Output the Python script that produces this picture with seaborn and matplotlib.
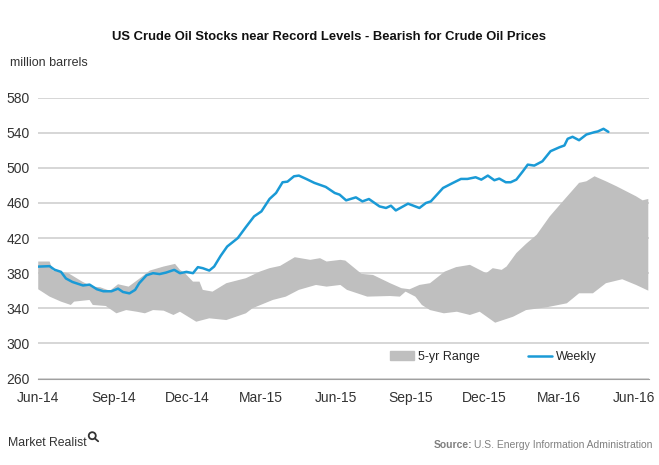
import matplotlib
matplotlib.use("Agg")
import matplotlib.pyplot as plt
import matplotlib.dates as mdates
from matplotlib.patches import Patch, Ellipse
from matplotlib.lines import Line2D
import seaborn as sns
import pandas as pd
import numpy as np

# weekly US crude oil stocks (million barrels)
weekly_dates = ["2014-06-01", "2014-06-15", "2014-06-21", "2014-06-29", "2014-07-05", "2014-07-13",
                "2014-07-26", "2014-08-03", "2014-08-12", "2014-08-20", "2014-08-30", "2014-09-07",
                "2014-09-13", "2014-09-21", "2014-09-28", "2014-10-03", "2014-10-12", "2014-10-20",
                "2014-10-28", "2014-11-05", "2014-11-15", "2014-11-22", "2014-11-30", "2014-12-08",
                "2014-12-14", "2014-12-20", "2014-12-28", "2015-01-03", "2015-01-11", "2015-01-19",
                "2015-02-01", "2015-02-11", "2015-02-21", "2015-03-02", "2015-03-12", "2015-03-20",
                "2015-03-28", "2015-04-03", "2015-04-11", "2015-04-17", "2015-04-26", "2015-05-06",
                "2015-05-20", "2015-05-31", "2015-06-06", "2015-06-14", "2015-06-26", "2015-07-04",
                "2015-07-12", "2015-07-25", "2015-08-02", "2015-08-08", "2015-08-14", "2015-08-29",
                "2015-09-12", "2015-09-20", "2015-09-26", "2015-10-11", "2015-10-23", "2015-11-02",
                "2015-11-10", "2015-11-20", "2015-11-27", "2015-12-05", "2015-12-13", "2015-12-19",
                "2015-12-27", "2016-01-02", "2016-01-09", "2016-01-17", "2016-01-23", "2016-01-31",
                "2016-02-10", "2016-02-20", "2016-03-02", "2016-03-08", "2016-03-12", "2016-03-18",
                "2016-03-26", "2016-04-04", "2016-04-14", "2016-04-18", "2016-04-25", "2016-05-01"]
weekly_vals = [387.5, 388, 384, 381.5, 374, 370,
               366, 367, 361.7, 359.4, 359.4, 362.4,
               358.6, 357, 361, 368.6, 377.7, 380,
               379, 380.7, 383.8, 380, 381.5, 380,
               386.9, 385.7, 383, 387.6, 399.8, 410.4,
               420, 432.6, 444.7, 450.4, 464.6, 471.4,
               483.6, 484.3, 490.4, 491.2, 487.4, 482.9,
               478.3, 471.4, 469.5, 463, 466.4, 461.8,
               464.5, 456.1, 454.3, 456.9, 451.5, 459.2,
               454.3, 460, 461.8, 477.1, 482.8, 487.4,
               487.4, 489.3, 486.6, 491.2, 485.9, 487.8,
               483.6, 483.6, 486.6, 496.1, 503.7, 502.6,
               507.5, 519, 523.5, 525.5, 533.1, 535.4,
               531.5, 538, 540.7, 541.5, 544.5, 541]

# 5-yr range, upper edge
upper_dates = ["2014-06-01", "2014-06-15", "2014-06-19", "2014-07-08", "2014-07-25", "2014-08-06",
               "2014-08-16", "2014-08-28", "2014-09-07", "2014-09-20", "2014-10-04", "2014-10-16",
               "2014-11-02", "2014-11-16", "2014-11-22", "2014-11-28", "2014-12-08", "2014-12-16",
               "2014-12-20", "2015-01-01", "2015-01-18", "2015-02-11", "2015-02-28", "2015-03-12",
               "2015-03-25", "2015-04-12", "2015-05-01", "2015-05-13", "2015-05-21", "2015-06-07",
               "2015-06-13", "2015-07-03", "2015-07-17", "2015-08-07", "2015-08-21", "2015-08-31",
               "2015-09-12", "2015-09-25", "2015-10-13", "2015-10-27", "2015-11-13", "2015-11-25",
               "2015-12-03", "2015-12-11", "2015-12-22", "2015-12-28", "2016-01-09", "2016-01-21",
               "2016-02-03", "2016-02-19", "2016-03-06", "2016-03-26", "2016-04-04", "2016-04-14",
               "2016-04-28", "2016-05-11", "2016-05-23", "2016-06-04", "2016-06-12", "2016-06-19"]
upper_vals = [393.3, 393.3, 383, 380, 370.4, 364.7,
              364, 360, 367.4, 364.7, 374.3, 383,
              387.6, 390.6, 383.8, 380, 370.4, 370.4,
              361, 359, 368.6, 374.3, 381.8, 385.7,
              388.3, 398.2, 395.2, 397.1, 393.3, 395.2,
              394.4, 379.2, 378, 368.6, 362.9, 361.7,
              366.6, 368.6, 381.8, 386.9, 389.5, 383.8,
              380, 385.7, 383.8, 387.6, 402.9, 413.5,
              423.8, 444.7, 461.8, 482.9, 484.7, 490.4,
              484.7, 479, 473.3, 467.6, 463, 464.6]

# 5-yr range, lower edge
lower_dates = ["2014-06-01", "2014-06-15", "2014-06-29", "2014-07-11", "2014-07-15", "2014-08-03",
               "2014-08-07", "2014-08-23", "2014-09-05", "2014-09-17", "2014-09-30", "2014-10-10",
               "2014-10-20", "2014-11-02", "2014-11-14", "2014-11-22", "2014-12-12", "2014-12-28",
               "2015-01-18", "2015-02-11", "2015-02-19", "2015-03-16", "2015-04-01", "2015-04-17",
               "2015-05-08", "2015-05-21", "2015-06-07", "2015-06-15", "2015-07-10", "2015-08-07",
               "2015-08-19", "2015-08-26", "2015-09-07", "2015-09-15", "2015-09-25", "2015-10-12",
               "2015-10-28", "2015-11-13", "2015-11-25", "2015-12-14", "2016-01-05", "2016-01-21",
               "2016-02-15", "2016-03-11", "2016-03-26", "2016-04-12", "2016-04-28", "2016-05-18",
               "2016-06-04", "2016-06-19"]
lower_vals = [361.7, 353.3, 347.6, 343.8, 347.6, 349.5,
              343.8, 342.6, 334.3, 338, 336.1, 334.3,
              338, 337.3, 332.4, 336.1, 324.7, 328.6,
              326.6, 334.3, 340, 349.5, 353.3, 361,
              366.6, 364.7, 366.6, 361, 353.3, 354,
              353.3, 359, 353.3, 343.8, 338, 334.3,
              336.1, 332.4, 336.1, 323.6, 330.4, 338,
              341.1, 345.7, 357.1, 357.1, 368.6, 373.1,
              366.6, 360.1]

y_ticks = [260, 300, 340, 380, 420, 460, 500, 540, 580]

sns.set_style("white")
plt.rcParams["font.family"] = ["Liberation Sans", "DejaVu Sans"]

fig = plt.figure(figsize=(6.59, 4.65), dpi=100)
ax = fig.add_axes([0.058, 0.186, 0.927, 0.604])

weekly = pd.DataFrame({"date": pd.to_datetime(weekly_dates), "stocks": weekly_vals})
up_d = pd.to_datetime(upper_dates)
lo_d = pd.to_datetime(lower_dates)

# range band as one polygon: upper edge forward, lower edge back
band_x = np.concatenate([mdates.date2num(up_d), mdates.date2num(lo_d)[::-1]])
band_y = np.concatenate([upper_vals, lower_vals[::-1]])
ax.fill(band_x, band_y, color="#bfbfbf", lw=0, zorder=2)

sns.lineplot(data=weekly, x="date", y="stocks", ax=ax, color="#1a9ad6", lw=1.8, zorder=3)

ax.set_ylim(260, 580)
ax.set_xlim(pd.Timestamp("2014-06-01"), pd.Timestamp("2016-06-20"))
ax.set_yticks(y_ticks)
ax.xaxis.set_major_locator(mdates.MonthLocator(bymonth=[3, 6, 9, 12]))
ax.xaxis.set_major_formatter(mdates.DateFormatter("%b-%y"))
ax.grid(axis="y", color="#d0d0d0", lw=1.2, zorder=0)
ax.set_axisbelow(True)
for s in ["left", "right", "top"]:
    ax.spines[s].set_visible(False)
ax.spines["bottom"].set_color("#a0a0a0")
ax.tick_params(axis="x", direction="out", length=4, color="#a0a0a0", labelsize=10, labelcolor="#333333", pad=5)
ax.tick_params(axis="y", length=0, labelsize=10, labelcolor="#333333", pad=6)
ax.set_xlabel("")
ax.set_ylabel("")

handles = [Patch(color="#bfbfbf", label="5-yr Range"),
           Line2D([], [], color="#1a9ad6", lw=1.8, label="Weekly")]
ax.legend(handles=handles, loc="lower center", bbox_to_anchor=(0.745, 0.015), ncol=2, frameon=False,
          fontsize=9, handlelength=1.9, handletextpad=0.3, columnspacing=3.9)

fig.text(0.5, 0.92, "US Crude Oil Stocks near Record Levels - Bearish for Crude Oil Prices",
         ha="center", va="center", fontsize=9.4, fontweight="bold", color="#111111")
fig.text(0.015, 0.865, "million barrels", ha="left", va="center", fontsize=9, color="#333333")

# Market Realist mark
fig.text(0.012, 0.048, "Market Realist", ha="left", va="center", fontsize=8.8, color="#333333")
fig.add_artist(Ellipse((0.140, 0.063), 7 / 659, 7 / 465, transform=fig.transFigure,
                       fill=False, lw=1.3, ec="#333333"))
fig.add_artist(Line2D([0.144, 0.149], [0.057, 0.051], transform=fig.transFigure, lw=1.3, color="#333333"))

fig.text(0.717, 0.043, "Source:", ha="right", va="center", fontsize=7.5, color="#808080", fontweight="bold")
fig.text(0.719, 0.043, "U.S. Energy Information Administration", ha="left", va="center", fontsize=7.5,
         color="#808080")

fig.savefig("out.png", dpi=100)
